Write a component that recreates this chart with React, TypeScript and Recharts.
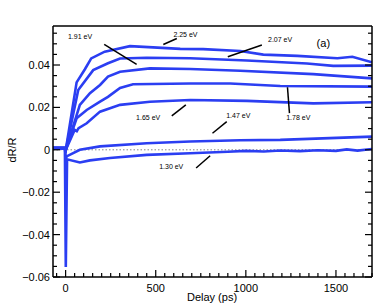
import React from 'react';
import { LineChart, Line, XAxis, YAxis, ReferenceLine, ReferenceDot } from 'recharts';

// [delay (ps), dR/R]
const s225 = [[-70, 0.0008], [-4, 0.0008], [1, 0], [61, 0.0318], [107, 0.038], [142, 0.0431], [217, 0.0463], [357, 0.0489], [485, 0.0483], [636, 0.0476], [763, 0.0475], [969, 0.0466], [1097, 0.0449], [1286, 0.0443], [1508, 0.0432], [1591, 0.0439], [1700, 0.0413]];
const s207 = [[-70, 0.0008], [-4, 0.0008], [1, 0], [70, 0.0282], [153, 0.0376], [235, 0.0408], [302, 0.0431], [450, 0.0434], [691, 0.0432], [1006, 0.0421], [1339, 0.0407], [1485, 0.0396], [1700, 0.0397]];
const s191 = [[-70, 0.0008], [-4, 0.0008], [1, 0], [79, 0.0212], [135, 0.0267], [191, 0.0306], [235, 0.0345], [302, 0.0368], [468, 0.0384], [691, 0.0381], [969, 0.0373], [1374, 0.0357], [1700, 0.0337]];
const s178 = [[-70, 0.0008], [-4, 0.0008], [1, 0], [61, 0.0149], [117, 0.0188], [191, 0.0227], [235, 0.025], [302, 0.0292], [374, 0.0309], [691, 0.0313], [913, 0.0313], [1191, 0.0301], [1700, 0.0298]];
const s165 = [[-70, 0.0008], [-4, 0.0008], [1, 0], [50, 0.0094], [62, 0.0088], [72, 0.0102], [117, 0.0125], [191, 0.018], [302, 0.0212], [468, 0.0227], [691, 0.0235], [1006, 0.0231], [1374, 0.0219], [1700, 0.0224]];
const s147 = [[-70, 0.0008], [-4, 0.0008], [1, -0.004], [8, -0.003], [79, 0], [191, 0.0016], [450, 0.0031], [691, 0.0039], [969, 0.0045], [1191, 0.0047], [1700, 0.0062]];
const s130 = [[-70, 0.0008], [-4, 0.0008], [1, -0.0553], [8, -0.0045], [79, -0.006], [135, -0.005], [246, -0.0039], [450, -0.0024], [691, -0.0016], [900, -0.0009], [1000, -0.0005], [1100, -0.0008], [1191, -0.0003], [1300, -0.0006], [1400, -0.0002], [1500, -0.0005], [1560, 0.0002], [1620, -0.0004], [1700, 0.0004]];

const series = [s225, s207, s191, s178, s165, s147, s130];

const xLabels = [0, 500, 1000, 1500];
const yLabels = [-0.06, -0.04, -0.02, 0, 0.02, 0.04];

// annotation labels: [text, delay, dR/R]
const notes: [string, number, number][] = [
  ['1.91 eV', 80, 0.0535],
  ['2.25 eV', 665, 0.0543],
  ['2.07 eV', 1190, 0.0518],
  ['1.65 eV', 458, 0.0151],
  ['1.78 eV', 1291, 0.015],
  ['1.47 eV', 958, 0.0161],
  ['1.30 eV', 586, -0.0081],
];
// pointer lines
const pointers = [
  [[214, 0.0497], [394, 0.0403]],
  [[542, 0.0497], [617, 0.0525]],
  [[900, 0.0439], [1089, 0.0494]],
  [[589, 0.016], [667, 0.0212]],
  [[1231, 0.0295], [1242, 0.0173]],
  [[815, 0.0078], [894, 0.0133]],
  [[724, -0.0086], [802, -0.0028]],
];

const xTicks = Array.from({ length: 36 }, (_, i) => -50 + i * 50);
const yTicks = Array.from({ length: 24 }, (_, i) => Math.round((-0.06 + i * 0.005) * 1000) / 1000);

const font = 'Liberation Sans, Arial, sans-serif';
const blue = '#2b3ef2';

const near = (list: number[], v: number) => list.some((m) => Math.abs(m - v) < 1e-9);
const fmtY = (v: number) => (v === 0 ? '0' : v < 0 ? '\u2212' + Math.abs(v).toFixed(2) : v.toFixed(2));

function BottomTick({ x, y, payload }: any) {
  const major = near(xLabels, payload.value);
  return (
    <g>
      <line x1={x} x2={x} y1={y} y2={y - (major ? 7 : 4)} stroke="#000" strokeWidth={1.2} />
      {major && (
        <text x={x} y={y + 15} textAnchor="middle" fontSize={11} fontFamily={font} fill="#000">
          {payload.value}
        </text>
      )}
    </g>
  );
}

function TopTick({ x, y, payload }: any) {
  const major = near(xLabels, payload.value);
  return <line x1={x} x2={x} y1={y} y2={y + (major ? 7 : 4)} stroke="#000" strokeWidth={1.2} />;
}

function LeftTick({ x, y, payload }: any) {
  const major = near(yLabels, payload.value);
  return (
    <g>
      <line x1={x} x2={x + (major ? 7 : 4)} y1={y} y2={y} stroke="#000" strokeWidth={1.2} />
      {major && (
        <text x={x - 3} y={y + 4} textAnchor="end" fontSize={11} fontFamily={font} fill="#000">
          {fmtY(payload.value)}
        </text>
      )}
    </g>
  );
}

function RightTick({ x, y, payload }: any) {
  const major = near(yLabels, payload.value);
  return <line x1={x} x2={x - (major ? 7 : 4)} y1={y} y2={y} stroke="#000" strokeWidth={1.2} />;
}

export default function App() {
  const axisLine = { stroke: '#000', strokeWidth: 1.5 };
  return (
    <div style={{ position: 'absolute', left: 0, top: 0, width: 374, height: 306, background: '#fff' }}>
      <LineChart width={374} height={306} margin={{ top: 25, right: 1, left: 8, bottom: 0 }}>
        <XAxis
          xAxisId={0}
          type="number"
          dataKey="t"
          domain={[-70, 1700]}
          allowDataOverflow
          ticks={xTicks}
          interval={0}
          tickSize={0}
          tickMargin={0}
          tickLine={false}
          axisLine={axisLine}
          height={29}
          tick={<BottomTick />}
        />
        <XAxis
          xAxisId="top"
          orientation="top"
          type="number"
          domain={[-70, 1700]}
          allowDataOverflow
          ticks={xTicks}
          interval={0}
          tickSize={0}
          tickMargin={0}
          tickLine={false}
          axisLine={axisLine}
          height={1}
          tick={<TopTick />}
        />
        <YAxis
          yAxisId={0}
          type="number"
          domain={[-0.06, 0.0584]}
          allowDataOverflow
          ticks={yTicks}
          interval={0}
          tickSize={0}
          tickMargin={0}
          tickLine={false}
          axisLine={axisLine}
          width={45}
          tick={<LeftTick />}
        />
        <YAxis
          yAxisId="right"
          orientation="right"
          type="number"
          domain={[-0.06, 0.0584]}
          allowDataOverflow
          ticks={yTicks}
          interval={0}
          tickSize={0}
          tickMargin={0}
          tickLine={false}
          axisLine={axisLine}
          width={1}
          tick={<RightTick />}
        />
        <ReferenceLine y={0} stroke="#888" strokeDasharray="1.5 2" strokeWidth={1} />
        {series.map((s, i) => (
          <Line
            key={i}
            data={s.map(([t, v]) => ({ t, v }))}
            dataKey="v"
            type="linear"
            stroke={blue}
            strokeWidth={2.6}
            dot={false}
            isAnimationActive={false}
          />
        ))}
        {pointers.map(([a, b], i) => (
          <ReferenceLine
            key={'p' + i}
            segment={[{ x: a[0], y: a[1] }, { x: b[0], y: b[1] }]}
            stroke="#000"
            strokeWidth={1.5}
          />
        ))}
        {notes.map(([text, t, v]) => (
          <ReferenceDot
            key={text}
            x={t}
            y={v}
            r={0}
            fill="none"
            stroke="none"
            label={{ value: text, position: 'center', fontSize: 7, fontFamily: font, fill: '#000' }}
          />
        ))}
        <ReferenceDot
          x={1430}
          y={0.0504}
          r={0}
          fill="none"
          stroke="none"
          label={{ value: '(a)', position: 'center', fontSize: 11, fontFamily: font, fill: '#000' }}
        />
      </LineChart>
      <div
        style={{
          position: 'absolute',
          left: 0,
          top: 290,
          width: 424,
          textAlign: 'center',
          fontFamily: font,
          fontSize: 11,
          lineHeight: '14px',
        }}
      >
        Delay (ps)
      </div>
      <div
        style={{
          position: 'absolute',
          left: 12,
          top: 150,
          transform: 'translate(-50%, -50%) rotate(-90deg)',
          fontFamily: font,
          fontSize: 11,
          whiteSpace: 'nowrap',
        }}
      >
        dR/R
      </div>
    </div>
  );
}
